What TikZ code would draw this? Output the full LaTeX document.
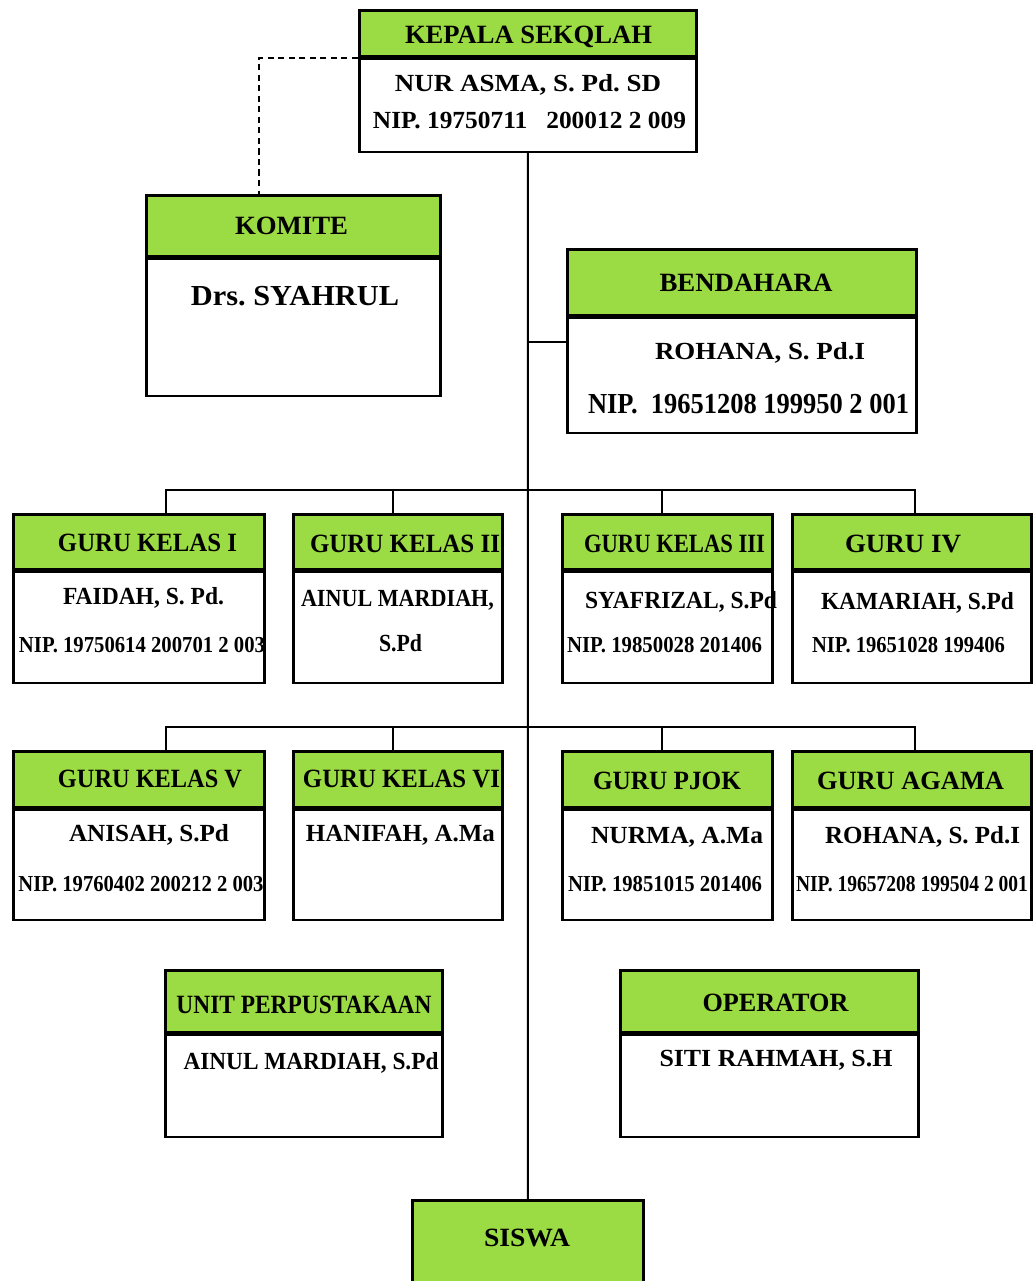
\documentclass[tikz,border=0pt]{standalone}
\usepackage{fontspec}
\setmainfont{Liberation Serif}
\usepackage{graphicx}
\definecolor{hijau}{RGB}{155,219,67}
\newlength{\px}
\setlength{\px}{0.02cm}
\newcommand{\lebar}[2]{\resizebox{#1\px}{\height}{#2}}
\frenchspacing

\begin{document}
\begin{tikzpicture}[x=0.02cm, y=-0.02cm,
  kotakH/.style={draw, fill=hijau, line width=1.5pt, anchor=north west, inner sep=0pt},
  kotakB/.style={draw, fill=white, line width=1.5pt, anchor=north west, inner sep=0pt},
  garis/.style={line width=1.1pt},
  putus/.style={line width=1.1pt, dash pattern=on 3.5pt off 2.5pt},
  judul/.style={anchor=base, inner sep=0pt, font=\bfseries\fontsize{15}{18}\selectfont},
  nama/.style={anchor=base, inner sep=0pt, font=\bfseries\fontsize{14}{17}\selectfont},
  besar/.style={anchor=base, inner sep=0pt, font=\bfseries\fontsize{16.5}{20}\selectfont},
  nip/.style={anchor=base, inner sep=0pt, font=\bfseries\fontsize{13}{16}\selectfont}]
  \useasboundingbox[fill=white] (0,0) rectangle (1033,1281);
  % kotak
  \node[kotakH, minimum width=6.74cm, minimum height=0.92cm] (kepH) at (358,9) {};
  \node[kotakB, minimum width=6.74cm, minimum height=1.86cm] (kepB) at (kepH.south west) {};
  \node[kotakH, minimum width=5.88cm, minimum height=1.22cm] (komH) at (145,194) {};
  \node[kotakB, minimum width=5.88cm, minimum height=2.74cm] (komB) at (komH.south west) {};
  \node[kotakH, minimum width=6.98cm, minimum height=1.32cm] (benH) at (566,248) {};
  \node[kotakB, minimum width=6.98cm, minimum height=2.30cm] (benB) at (benH.south west) {};
  \node[kotakH, minimum width=5.02cm, minimum height=1.10cm] (g1H) at (12,513) {};
  \node[kotakB, minimum width=5.02cm, minimum height=2.22cm] (g1B) at (g1H.south west) {};
  \node[kotakH, minimum width=4.18cm, minimum height=1.10cm] (g2H) at (292,513) {};
  \node[kotakB, minimum width=4.18cm, minimum height=2.22cm] (g2B) at (g2H.south west) {};
  \node[kotakH, minimum width=4.20cm, minimum height=1.10cm] (g3H) at (561,513) {};
  \node[kotakB, minimum width=4.20cm, minimum height=2.22cm] (g3B) at (g3H.south west) {};
  \node[kotakH, minimum width=4.78cm, minimum height=1.10cm] (g4H) at (791,513) {};
  \node[kotakB, minimum width=4.78cm, minimum height=2.22cm] (g4B) at (g4H.south west) {};
  \node[kotakH, minimum width=5.02cm, minimum height=1.12cm] (g5H) at (12,750) {};
  \node[kotakB, minimum width=5.02cm, minimum height=2.20cm] (g5B) at (g5H.south west) {};
  \node[kotakH, minimum width=4.18cm, minimum height=1.12cm] (g6H) at (292,750) {};
  \node[kotakB, minimum width=4.18cm, minimum height=2.20cm] (g6B) at (g6H.south west) {};
  \node[kotakH, minimum width=4.20cm, minimum height=1.12cm] (g7H) at (561,750) {};
  \node[kotakB, minimum width=4.20cm, minimum height=2.20cm] (g7B) at (g7H.south west) {};
  \node[kotakH, minimum width=4.78cm, minimum height=1.12cm] (g8H) at (791,750) {};
  \node[kotakB, minimum width=4.78cm, minimum height=2.20cm] (g8B) at (g8H.south west) {};
  \node[kotakH, minimum width=5.54cm, minimum height=1.24cm] (perpH) at (164,969) {};
  \node[kotakB, minimum width=5.54cm, minimum height=2.04cm] (perpB) at (perpH.south west) {};
  \node[kotakH, minimum width=5.96cm, minimum height=1.24cm] (opsH) at (619,969) {};
  \node[kotakB, minimum width=5.96cm, minimum height=2.04cm] (opsB) at (opsH.south west) {};
  \node[kotakH, minimum width=4.62cm, minimum height=2.00cm] (siswa) at (411,1199) {};
  % garis
  \coordinate (tBen) at (526.5,342);
  \coordinate (bus1) at (526.5,490);
  \coordinate (bus2) at (526.5,727);
  \coordinate (d1) at (166,513);
  \coordinate (d2) at (393,513);
  \coordinate (d3) at (662,513);
  \coordinate (d4) at (915,513);
  \coordinate (e1) at (166,750);
  \coordinate (e2) at (393,750);
  \coordinate (e3) at (662,750);
  \coordinate (e4) at (915,750);
  \coordinate (dKom) at (259,194);
  \draw[garis] (kepB.south) -- (siswa.north);
  \draw[garis] (tBen) -- (tBen -| benB.west);
  \draw[garis] (d1) |- (d4 |- bus1) -- (d4);
  \draw[garis] (d2) -- (d2 |- bus1);
  \draw[garis] (d3) -- (d3 |- bus1);
  \draw[garis] (e1) |- (e4 |- bus2) -- (e4);
  \draw[garis] (e2) -- (e2 |- bus2);
  \draw[garis] (e3) -- (e3 |- bus2);
  \draw[putus] (kepB.north west) -| (dKom);
  % teks
  \node[judul] (kepT) at (528.5,43) {\lebar{247}{KEPALA SEKQLAH}};
  \node[nama] (kepN) at (528,91) {\lebar{266}{NUR ASMA, S. Pd. SD}};
  \node[nama] (kepP) at (529.5,128.5) {\lebar{313}{NIP. 19750711~~~200012 2 009}};
  \node[judul] (komT) at (291.5,234) {\lebar{113}{KOMITE}};
  \node[besar] (komN) at (295,305) {\lebar{208}{Drs. SYAHRUL}};
  \node[judul] (benT) at (746,291.5) {\lebar{173}{BENDAHARA}};
  \node[nama] (benN) at (760,359) {\lebar{210}{ROHANA, S. Pd.I}};
  \node[besar] (benP) at (748.5,413) {\lebar{321}{NIP.~~19651208 199950 2 001}};
  \node[judul] (g1T) at (147.5,551.5) {\lebar{179}{GURU KELAS I}};
  \node[nama] (g1N) at (143.5,604.5) {\lebar{161}{FAIDAH, S. Pd.}};
  \node[nip] (g1P) at (142,652) {\lebar{246}{NIP. 19750614 200701 2 003}};
  \node[judul] (g2T) at (405,552) {\lebar{190}{GURU KELAS II}};
  \node[nama] (g2N) at (397.5,606.5) {\lebar{193}{AINUL MARDIAH,}};
  \node[nama] (g2M) at (400.5,651.5) {\lebar{43}{S.Pd}};
  \node[judul] (g3T) at (674.5,552) {\lebar{181}{GURU KELAS III}};
  \node[nama] (g3N) at (681,608.5) {\lebar{192}{SYAFRIZAL, S.Pd}};
  \node[nip] (g3P) at (664.5,652.5) {\lebar{195}{NIP. 19850028 201406}};
  \node[judul] (g4T) at (903,552) {\lebar{116}{GURU IV}};
  \node[nama] (g4N) at (917.5,609.5) {\lebar{193}{KAMARIAH, S.Pd}};
  \node[nip] (g4P) at (908.5,652.5) {\lebar{193}{NIP. 19651028 199406}};
  \node[judul] (g5T) at (150,787) {\lebar{184}{GURU KELAS V}};
  \node[nama] (g5N) at (149,841.5) {\lebar{160}{ANISAH, S.Pd}};
  \node[nip] (g5P) at (141,891) {\lebar{245}{NIP. 19760402 200212 2 003}};
  \node[judul] (g6T) at (401.5,787) {\lebar{197}{GURU KELAS VI}};
  \node[nama] (g6N) at (400.5,841.5) {\lebar{189}{HANIFAH, A.Ma}};
  \node[judul] (g7T) at (667,789) {\lebar{148}{GURU PJOK}};
  \node[nama] (g7N) at (677,843.5) {\lebar{172}{NURMA, A.Ma}};
  \node[nip] (g7P) at (665,891) {\lebar{194}{NIP. 19851015 201406}};
  \node[judul] (g8T) at (910.5,789) {\lebar{187}{GURU AGAMA}};
  \node[nama] (g8N) at (922.5,843.5) {\lebar{195}{ROHANA, S. Pd.I}};
  \node[nip] (g8P) at (912,891) {\lebar{232}{NIP. 19657208 199504 2 001}};
  \node[judul] (perpT) at (304,1013) {\lebar{255}{UNIT PERPUSTAKAAN}};
  \node[nama] (perpN) at (311,1069) {\lebar{255}{AINUL MARDIAH, S.Pd}};
  \node[judul] (opsT) at (775.5,1011) {\lebar{146}{OPERATOR}};
  \node[nama] (opsN) at (776,1066.5) {\lebar{233}{SITI RAHMAH, S.H}};
  \node[judul] (siswaT) at (527,1246) {\lebar{86}{SISWA}};
\end{tikzpicture}
\end{document}
